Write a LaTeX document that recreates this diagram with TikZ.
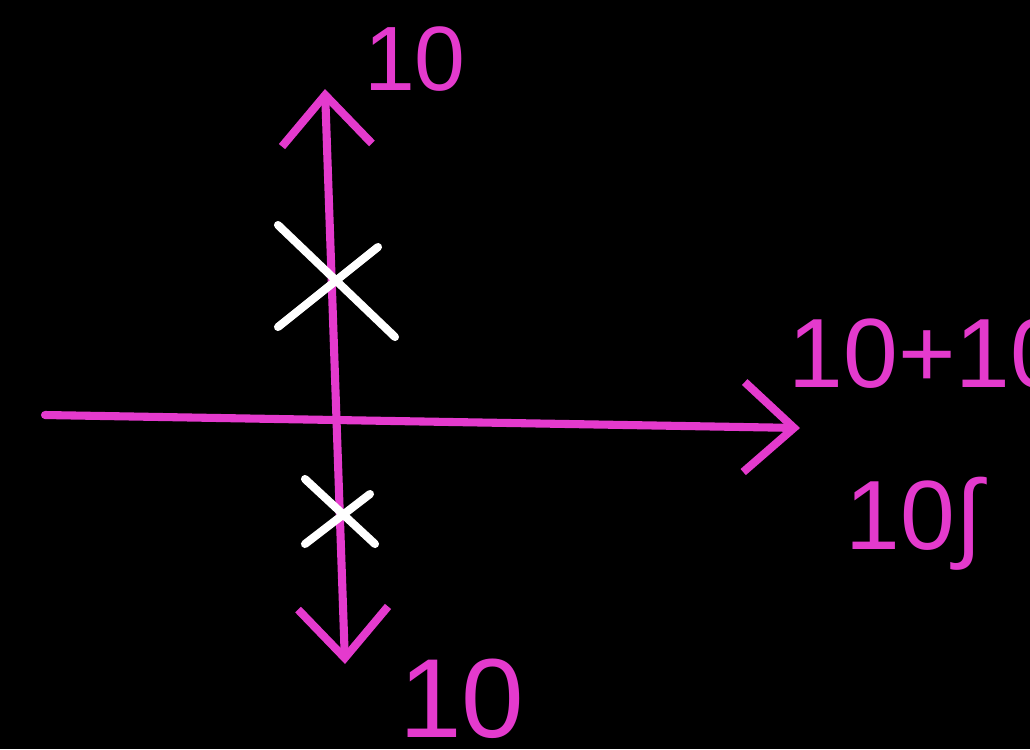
\documentclass[tikz,border=0pt]{standalone}
\usepackage{fontspec}
\setmainfont{Liberation Sans}
\usetikzlibrary{arrows.meta}
\definecolor{ink}{RGB}{228,58,205}
\begin{document}
\begin{tikzpicture}[
  axis/.style={draw=ink, line width=2.3pt, line cap=round},
  cross/.style={draw=white, line width=2.3pt, line cap=round},
  lbl/.style={text=ink, inner sep=0pt},
  >={Straight Barb[length=5mm, width=9mm, line width=2.3pt]}]
\clip (0,0) rectangle (10.3,7.49);
\fill[black] (0,0) rectangle (10.3,7.49);
% axes
\coordinate (top) at (3.25,6.6);
\coordinate (bot) at (3.45,0.85);
\coordinate (left) at (0.45,3.34);
\coordinate (right) at (8.0,3.21);
\draw[axis, <->] (bot) -- (top);
\draw[axis, ->] (left) -- (right);
% crosses
\coordinate (xa) at (3.33,4.72);
\coordinate (xb) at (3.40,2.35);
\draw[cross] ([shift={(-0.55,0.52)}]xa) -- ([shift={(0.62,-0.6)}]xa);
\draw[cross] ([shift={(0.45,0.3)}]xa) -- ([shift={(-0.55,-0.5)}]xa);
\draw[cross] ([shift={(-0.35,0.35)}]xb) -- ([shift={(0.35,-0.3)}]xb);
\draw[cross] ([shift={(0.3,0.2)}]xb) -- ([shift={(-0.35,-0.3)}]xb);
% labels
\node[lbl, font=\fontsize{26}{30}\selectfont] (ltop) at (4.15,6.9) {10};
\node[lbl, font=\fontsize{32}{36}\selectfont] (lbot) at (4.62,0.5) {10};
\node[lbl, font=\fontsize{28}{32}\selectfont, anchor=west] (lsum) at (7.88,3.95) {10+10};
\node[lbl, font=\fontsize{28}{32}\selectfont, anchor=west] (lint) at (8.45,2.25) {10∫};
\end{tikzpicture}
\end{document}
